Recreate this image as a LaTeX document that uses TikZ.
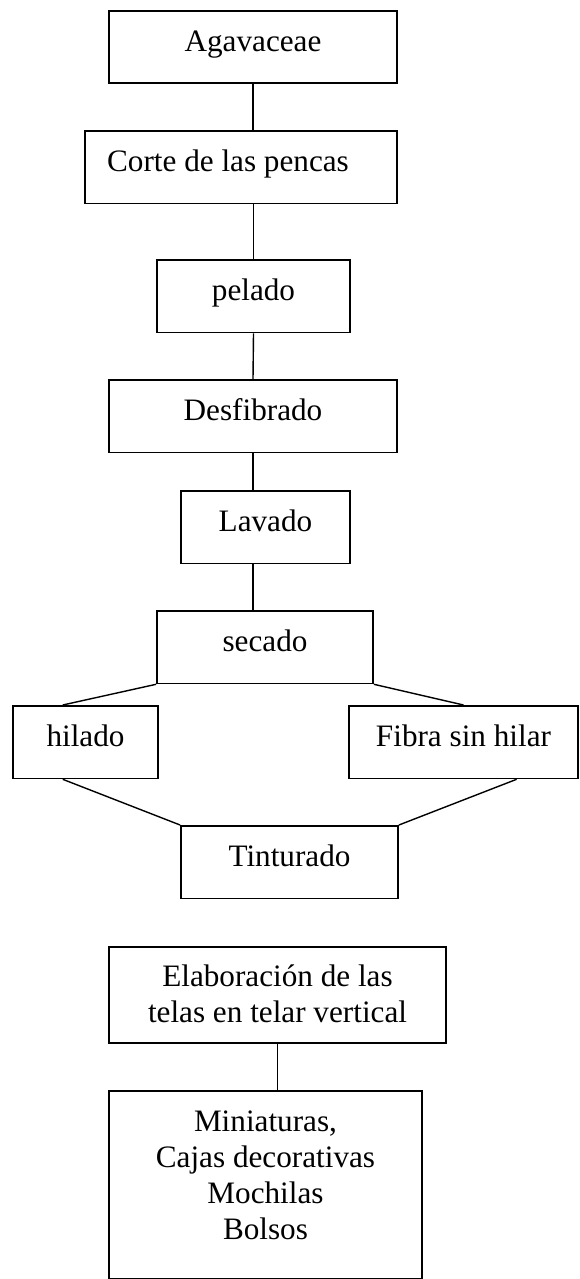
\documentclass[tikz,border=0pt]{standalone}
\usepackage{fontspec}
\setmainfont{Liberation Serif}
\usetikzlibrary{calc,positioning}

\begin{document}
\begin{tikzpicture}[x=0.5pt,y=-0.5pt,
	stage/.style={draw,line width=0.9pt,inner sep=0pt,anchor=north,
		text height=20.5pt,text depth=15.75pt,
		font=\fontsize{15.6}{18}\selectfont},
	link/.style={line width=0.7pt}
	]
	\useasboundingbox (0,0) rectangle (579,1279);

	\node[stage,minimum width=144pt] (agav) at (253,10) {Agavaceae};
	\node[stage,minimum width=156pt] (corte) at (241,130) {Corte de las pencas\hspace*{13pt}};
	\node[stage,minimum width=96.5pt] (pelado) at (253.5,259) {pelado};
	\node[stage,minimum width=144pt] (desf) at (253,379) {Desfibrado};
	\node[stage,minimum width=84.5pt] (lavado) at (265.5,490) {Lavado};
	\node[stage,minimum width=108pt] (secado) at (265,610) {secado};

	\node[stage,minimum width=72.5pt] (hilado) at (85.5,705) {hilado};
	\node[stage,minimum width=114.5pt] (fibra) at (463.5,705) {Fibra sin hilar};
	\node[stage,minimum width=108.5pt] (tintu) at (289.5,825) {Tinturado};

	% baseline of a multi-line node is its last line
	\node[stage,minimum width=168.5pt,align=center,text height=38pt,text depth=10pt] (elab) at (277.5,946)
		{Elaboración de las\\telas en telar vertical};
	\node[stage,minimum width=156.5pt,align=center,text height=74.5pt,text depth=19.5pt] (prod) at (265.5,1090)
		{Miniaturas,\\Cajas decorativas\\Mochilas\\Bolsos};

	\draw[link] (agav.south) -- (agav.south |- corte.north);
	\draw[link] (pelado.north |- corte.south) -- (pelado.north);
	\draw[link] (pelado.south) -- (desf.north);
	\draw[link] (desf.south) -- (desf.south |- lavado.north);
	\draw[link] (lavado.south -| desf.south) -- (secado.north -| desf.south);

	\draw[link] (secado.south west) -- ($(hilado.north west)!0.345!(hilado.north east)$);
	\draw[link] (secado.south east) -- (fibra.north);
	\draw[link] ($(hilado.south west)!0.345!(hilado.south east)$) -- (tintu.north west);
	\draw[link] ($(fibra.south west)!0.73!(fibra.south east)$) -- (tintu.north east);

	\draw[link] (elab.south) -- (prod.north -| elab.south);
\end{tikzpicture}
\end{document}
